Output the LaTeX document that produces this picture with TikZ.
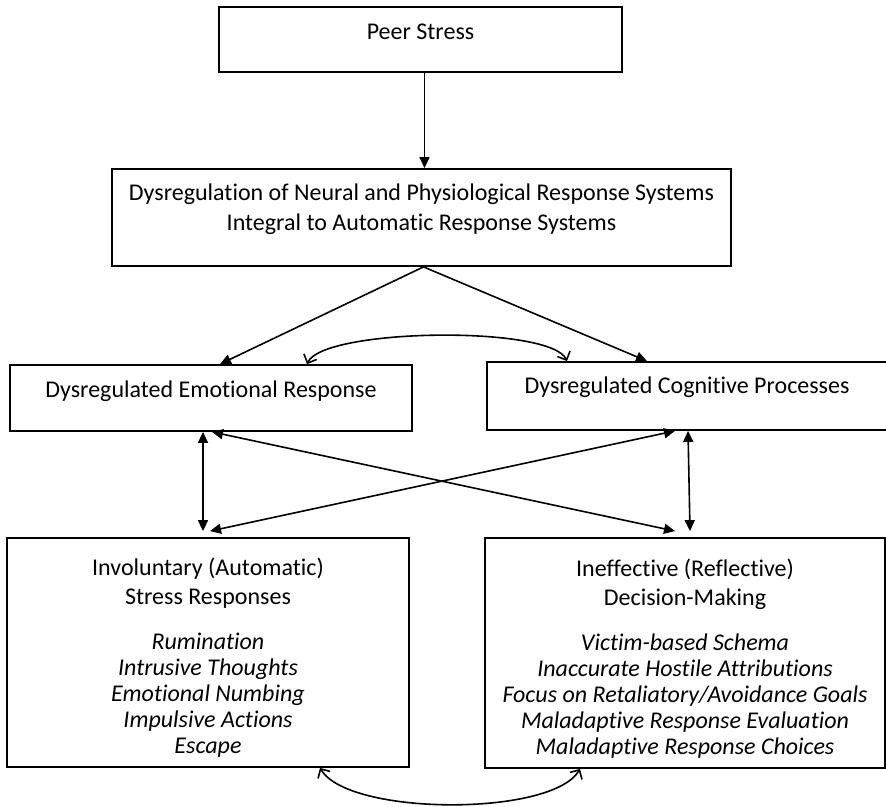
\documentclass[tikz,border=0pt]{standalone}
\usepackage{fontspec}
\setmainfont{Carlito}[Ligatures=NoCommon]
\usepackage{tikz}
\usetikzlibrary{arrows.meta, positioning}

\begin{document}
\begin{tikzpicture}[x=0.5pt, y=-0.5pt, font=\fontsize{12}{13}\selectfont]
    % Styles
    \tikzstyle{box} = [rectangle, draw, line width=0.9pt, align=center, inner sep=0pt]
    \tikzstyle{arrow} = [line width=0.8pt, -{Triangle[length=5.5pt, width=5pt]}]
    \tikzstyle{twoway} = [line width=0.8pt, {Triangle[length=5.5pt, width=5pt]}-{Triangle[length=5.5pt, width=5pt]}]
    \tikzstyle{curved} = [line width=0.8pt, {Straight Barb[length=3.5pt, width=7pt]}-{Straight Barb[length=3.5pt, width=7pt]}]

    \useasboundingbox (0,0) rectangle (886,806);

    % Nodes
    \node [box, minimum width=201.5pt, minimum height=32.5pt, text depth=8pt] (peer) at (420.5,39.5) {Peer Stress};
    \node [box, minimum width=309.5pt, minimum height=48.5pt, text depth=10pt] (dysreg) at (421.5,217.5)
        {Dysregulation of Neural and Physiological Response Systems\\[2pt] Integral to Automatic Response Systems};
    \node [box, minimum width=201pt, minimum height=33pt, text depth=9pt] (emo) at (211,398) {Dysregulated Emotional Response};
    \node [box, minimum width=200pt, minimum height=34pt, text depth=11pt] (cog) at (687,396) {Dysregulated Cognitive Processes};
    \node [box, minimum width=201pt, minimum height=114.5pt] (inv) at (208,652.5)
        {\rule{0pt}{14pt}Involuntary (Automatic)\\[1.5pt] Stress Responses\\[9.5pt]
         \textit{Rumination}\\ \textit{Intrusive Thoughts}\\ \textit{Emotional Numbing}\\
         \textit{Impulsive Actions}\\ \textit{Escape}};
    \node [box, minimum width=200pt, minimum height=115pt] (ineff) at (685,653)
        {\rule{0pt}{14pt}Ineffective (Reflective)\\[1.5pt] Decision-Making\\[9.5pt]
         \textit{Victim-based Schema}\\ \textit{Inaccurate Hostile Attributions}\\
         \textit{Focus on Retaliatory/Avoidance Goals}\\ \textit{Maladaptive Response Evaluation}\\
         \textit{Maladaptive Response Choices}};

    % Arrows
    \draw [arrow] ([xshift=2pt]peer.south) -- ([xshift=2pt]peer.south |- dysreg.north);
    \draw [arrow] ([xshift=1pt]dysreg.south) -- ([xshift=4.5pt]emo.north);
    \draw [arrow] ([xshift=1pt]dysreg.south) -- ([xshift=-20pt]cog.north);
    \draw [curved] ([xshift=48pt]emo.north) .. controls +(8pt,18pt) and +(-8pt,18pt) .. ([xshift=-60pt]cog.north);
    \draw [twoway] ([xshift=-4pt]emo.south) -- ([xshift=-2.5pt,yshift=3pt]inv.north);
    \draw [twoway] ([xshift=0.5pt]cog.south) -- ([xshift=2.5pt,yshift=3pt]ineff.north);
    \draw [twoway] ([xshift=0.5pt]emo.south) -- ([xshift=-5pt,yshift=3pt]ineff.north);
    \draw [twoway] ([xshift=-6pt]cog.south) -- ([xshift=1pt,yshift=3pt]inv.north);
    \draw [curved] ([xshift=56pt]inv.south) .. controls +(14pt,-24pt) and +(-14pt,-24pt) .. ([xshift=-52.5pt]ineff.south);
\end{tikzpicture}
\end{document}
